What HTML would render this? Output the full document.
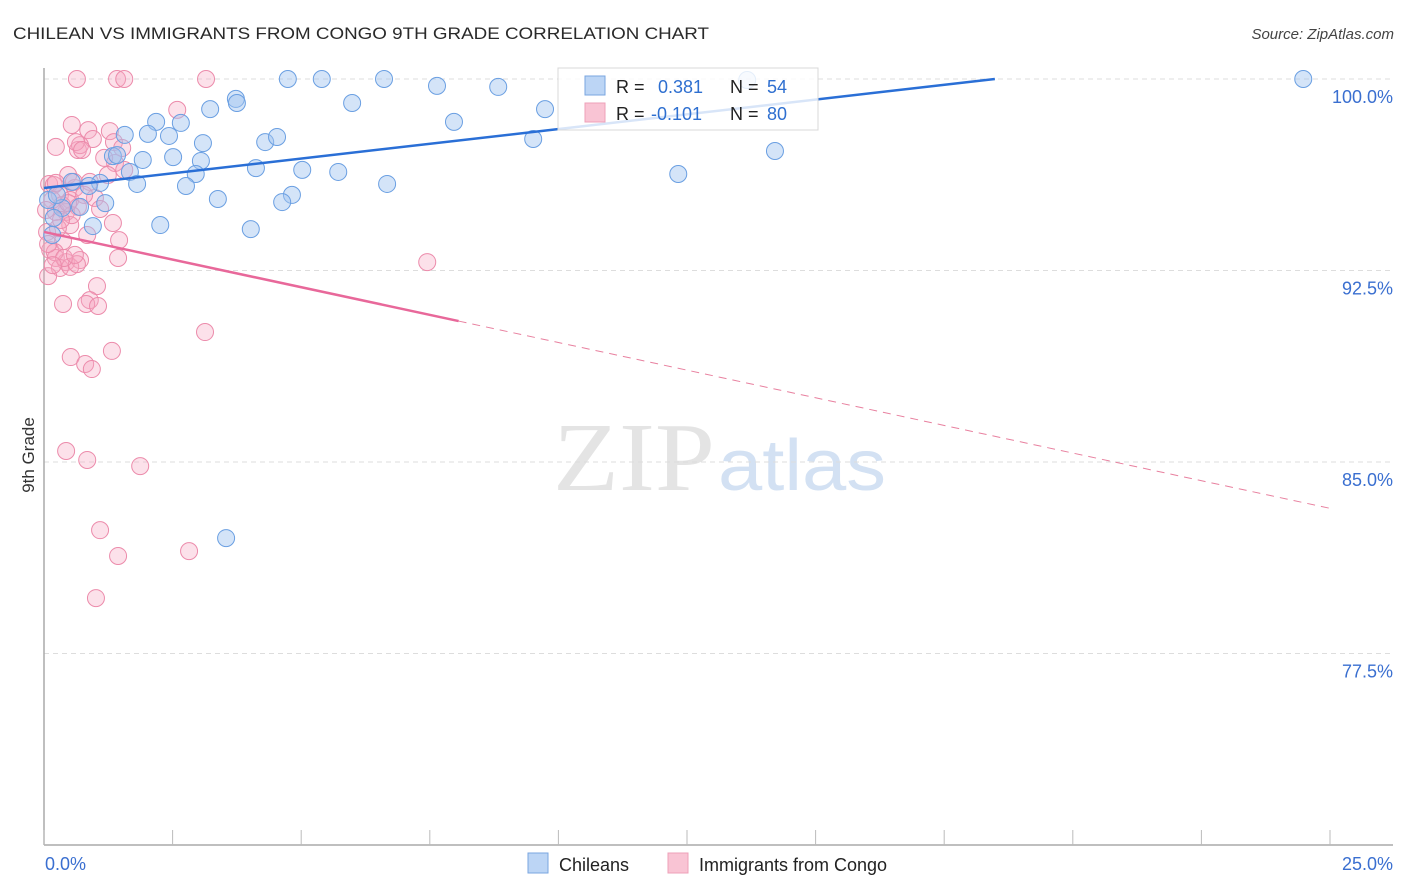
<!DOCTYPE html>
<html><head><meta charset="utf-8"><style>
body{margin:0;background:#fff;font-family:"Liberation Sans",sans-serif}
svg{display:block}
</style></head><body>
<svg id="chart" width="1406" height="892" viewBox="0 0 1406 892" xmlns="http://www.w3.org/2000/svg" font-family="Liberation Sans, sans-serif">
<text x="13" y="39" font-size="17" fill="#2a2a2a" textLength="696" lengthAdjust="spacingAndGlyphs">CHILEAN VS IMMIGRANTS FROM CONGO 9TH GRADE CORRELATION CHART</text>
<text x="1394" y="39" font-size="15" fill="#444" font-style="italic" text-anchor="end">Source: ZipAtlas.com</text>
<g>
<text x="553" y="490" font-family="Liberation Serif, serif" font-size="98" fill="#e4e4e4" textLength="162" lengthAdjust="spacingAndGlyphs">ZIP</text>
<text x="718" y="490" font-size="72" fill="#d3e1f3" textLength="168" lengthAdjust="spacingAndGlyphs">atlas</text>
</g>
<g id="grid"></g>
<g id="axes"></g>
<g id="pts"></g>
<g id="trends"></g>
<text transform="translate(34,455) rotate(-90)" font-size="17" fill="#333" text-anchor="middle">9th Grade</text>
<g>
<rect x="558" y="68" width="260" height="62" fill="#fff" fill-opacity="0.82" stroke="#d8d8d8"/>
<rect x="585" y="76" width="20" height="19" fill="#bcd5f5" stroke="#7aa6e0"/>
<rect x="585" y="103" width="20" height="19" fill="#f9c4d4" stroke="#eea0b8"/>
<text x="616" y="93" font-size="18" fill="#222">R =</text><text x="658" y="93" font-size="18" fill="#2e6fd0">0.381</text>
<text x="730" y="93" font-size="18" fill="#222">N =</text><text x="767" y="93" font-size="18" fill="#2e6fd0">54</text>
<text x="616" y="120" font-size="18" fill="#222">R =</text><text x="651" y="120" font-size="18" fill="#2e6fd0">-0.101</text>
<text x="730" y="120" font-size="18" fill="#222">N =</text><text x="767" y="120" font-size="18" fill="#2e6fd0">80</text>
</g>
<g>
<rect x="528" y="853" width="20" height="20" fill="#bcd5f5" stroke="#7aa6e0"/>
<text x="559" y="871" font-size="18" fill="#222">Chileans</text>
<rect x="668" y="853" width="20" height="20" fill="#f9c4d4" stroke="#eea0b8"/>
<text x="699" y="871" font-size="18" fill="#222">Immigrants from Congo</text>
</g>
</svg>
<script>
const xTicks=[0,2.5,5,7.5,10,12.5,15,17.5,20,22.5,25];
const yTicks=[100,92.5,85,77.5];
const yTickLabels=["100.0%","92.5%","85.0%","77.5%"];
const xEndLabels=["0.0%","25.0%"];
const blueX=[4.74,5.40,6.61,7.64,8.83,13.67,24.48,3.73,3.75,3.23,5.99,9.74,2.18,2.66,7.97,1.57,2.02,2.43,3.09,4.30,4.53,9.51,14.21,1.34,1.42,1.92,2.51,3.05,1.67,2.95,4.12,5.02,5.72,1.81,2.76,1.09,0.87,6.67,12.33,4.82,4.63,3.38,1.19,0.70,0.35,0.19,0.95,2.26,4.02,3.54,0.08,0.16,0.54,0.25];
const blueY=[100,100,100,99.73,99.69,99.96,100,99.22,99.06,98.82,99.06,98.82,98.32,98.28,98.32,97.81,97.85,97.77,97.49,97.53,97.73,97.65,97.18,96.98,97.02,96.83,96.94,96.79,96.36,96.28,96.51,96.44,96.36,95.89,95.81,95.93,95.81,95.89,96.28,95.46,95.18,95.30,95.14,94.99,94.95,94.56,94.24,94.28,94.12,82.02,95.26,93.89,95.97,95.46];
const pinkX=[0.64,1.42,1.56,3.15,2.59,0.54,0.86,1.28,0.95,0.23,0.66,0.70,1.36,1.52,0.62,1.38,1.56,1.24,0.47,0.89,0.60,0.10,0.19,0.31,0.51,0.99,0.66,1.09,0.43,0.23,1.34,0.51,0.84,0.06,1.46,0.37,0.12,0.23,0.43,0.70,1.44,0.31,0.51,0.64,0.08,1.03,0.89,0.37,0.82,1.05,3.13,1.32,0.52,0.80,0.93,0.43,0.84,1.87,1.09,2.82,1.44,1.01,7.45,0.23,0.16,0.35,0.54,0.21,0.39,0.60,0.27,0.47,0.78,0.08,0.17,1.17,0.74,0.04,0.33,0.58];
const pinkY=[100,100,100,100,98.79,98.20,98.00,97.96,97.65,97.34,97.22,97.41,97.53,97.30,97.53,96.71,96.44,96.24,96.24,95.97,95.73,95.89,95.85,95.46,95.26,95.34,94.99,94.91,94.79,94.79,94.36,94.28,93.89,94.01,93.69,93.65,93.30,92.99,92.83,92.91,92.99,92.60,92.64,92.75,92.28,91.89,91.34,91.19,91.19,91.11,90.09,89.35,89.11,88.84,88.64,85.43,85.08,84.84,82.33,81.51,81.32,79.67,92.83,95.93,95.26,95.06,94.67,93.22,92.99,93.11,94.16,95.14,95.46,93.54,92.71,96.91,97.22,94.87,94.48,95.97];
const blueTrend=[95.73,0.231];
const pinkTrend=[94.01,-0.433];
const pinkSolidEnd=8.06;
const NS="http://www.w3.org/2000/svg";
const X=v=>44+v/25*1286;
const Y=v=>79+(100-v)/7.5*191.5;
function mk(tag,attrs,parent){const e=document.createElementNS(NS,tag);for(const k in attrs)e.setAttribute(k,attrs[k]);document.getElementById(parent).appendChild(e);return e;}
yTicks.forEach((t,i)=>{
  const g=mk('line',{x1:44,x2:1393,y1:Y(t),y2:Y(t),stroke:'#ddd','stroke-dasharray':'5,4'},'grid');
  
  
  const l=mk('text',{x:1393,y:Y(t)+24,'font-size':18,fill:'#3a6fd0','text-anchor':'end'},'axes');
  l.textContent=yTickLabels[i];
  
  
});
const ya=mk('line',{x1:44,x2:44,y1:68,y2:845,stroke:'#aaa','stroke-width':1.5},'axes');


const xa=mk('line',{x1:44,x2:1393,y1:845,y2:845,stroke:'#aaa','stroke-width':1.5},'axes');


xTicks.forEach(t=>{
  const k=mk('line',{x1:X(t),x2:X(t),y1:830,y2:845,stroke:'#bbb'},'axes');
  
  
});
const xl0=mk('text',{x:45,y:870,'font-size':18,fill:'#3a6fd0'},'axes');xl0.textContent=xEndLabels[0];


const xl1=mk('text',{x:1393,y:870,'font-size':18,fill:'#3a6fd0','text-anchor':'end'},'axes');xl1.textContent=xEndLabels[1];


pinkX.forEach((v,i)=>{
  const c=mk('circle',{cx:X(v),cy:Y(pinkY[i]),r:8.5,fill:'rgba(246,168,194,0.35)',stroke:'#ec8bab','stroke-width':1},'pts');
  
  
});
blueX.forEach((v,i)=>{
  const c=mk('circle',{cx:X(v),cy:Y(blueY[i]),r:8.5,fill:'rgba(160,196,240,0.45)',stroke:'#6a9fe2','stroke-width':1},'pts');
  
  
});
const bEnd=Math.min(25,(100-blueTrend[0])/blueTrend[1]);
const bl=mk('line',{x1:X(0),y1:Y(blueTrend[0]),x2:X(bEnd),y2:Y(blueTrend[0]+blueTrend[1]*bEnd),stroke:'#2a6fd6','stroke-width':2.5},'trends');


const pl=mk('line',{x1:X(0),y1:Y(pinkTrend[0]),x2:X(pinkSolidEnd),y2:Y(pinkTrend[0]+pinkTrend[1]*pinkSolidEnd),stroke:'#e8689a','stroke-width':2.5},'trends');


const pd=mk('line',{x1:X(pinkSolidEnd),y1:Y(pinkTrend[0]+pinkTrend[1]*pinkSolidEnd),x2:X(25),y2:Y(pinkTrend[0]+pinkTrend[1]*25),stroke:'#e8809f','stroke-width':1,'stroke-dasharray':'8,6'},'trends');


</script>
</body></html>
